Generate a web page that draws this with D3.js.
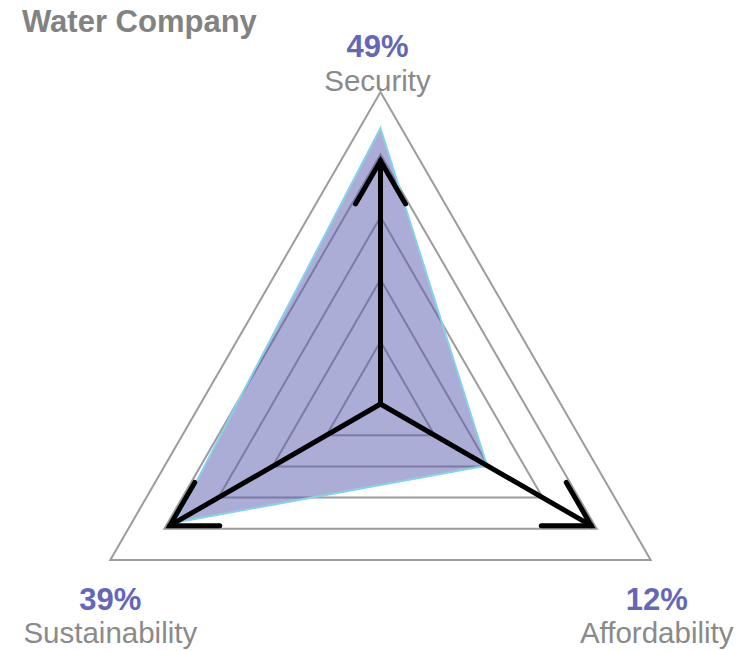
<!DOCTYPE html>
<html>
<head>
<meta charset="utf-8">
<script src="https://cdn.jsdelivr.net/npm/d3@7"></script>
<style>
  body { margin: 0; background: #fff; }
  text { font-family: "Liberation Sans", Arial, Helvetica, sans-serif; }
</style>
</head>
<body>
<div id="chart-holder"></div>
<script>
// ****DATA****
const axes = ["Security", "Affordability", "Sustainability"];
const shares = ["49%", "12%", "39%"];          // labels shown above each axis name
const scores = [4.42, 1.97, 3.8];              // radar polygon values (0-5)
const targets = [3.9, 3.9, 3.9];               // black arrow lengths (0-5)
const levels = [1, 2, 3, 4, 5];                // grid rings

// ****CANVAS****
const width = 742;
const height = 651;
const cx = 380.5;
const cy = 404;
const radius = 312;

const svg = d3.select('#chart-holder')
    .append('svg')
    .attr('width', width)
    .attr('height', height);

svg.append('text')
    .attr('x', 22)
    .attr('y', 32)
    .style('font-weight', 'bold')
    .style('font-size', '31px')
    .style('fill', '#828282')
    .text('Water Company');

// ****SCALES****
const rScale = d3.scaleLinear().domain([0, 5]).range([0, radius]);
const angle = d3.scaleLinear().domain([0, axes.length]).range([0, 2 * Math.PI]);

const g = svg.append('g')
    .attr('transform', `translate(${cx}, ${cy})`);

const radial = d3.lineRadial()
    .angle((d, i) => angle(i))
    .radius(d => rScale(d))
    .curve(d3.curveLinearClosed);

// grid triangles
g.append('g')
    .attr('id', 'grid')
    .selectAll('path')
    .data(levels)
    .enter()
    .append('path')
    .attr('d', l => radial(axes.map(() => l)))
    .style('fill', 'none')
    .style('stroke', '#9c9c9c')
    .style('stroke-width', 2);

// data polygon
g.append('path')
    .datum(scores)
    .attr('d', radial)
    .style('fill', '#5a5cad')
    .style('fill-opacity', 0.5)
    .style('stroke', '#86d2ea')
    .style('stroke-width', 2)
    .style('stroke-linejoin', 'miter');

// arrows
const point = (v, i) => {
    const a = angle(i);
    return [rScale(v) * Math.sin(a), -rScale(v) * Math.cos(a)];
};
const arrowGroup = g.append('g').attr('id', 'arrows');
targets.forEach(function (t, i) {
    const tip = point(t, i);
    const a = angle(i);
    const head = 50;
    const arms = [-Math.PI / 6, Math.PI / 6].map(function (off) {
        const b = a + Math.PI + off;
        return [tip[0] + head * Math.sin(b), tip[1] - head * Math.cos(b)];
    });
    arrowGroup.append('line')
        .attr('x1', 0).attr('y1', 0)
        .attr('x2', tip[0]).attr('y2', tip[1])
        .style('stroke', '#000')
        .style('stroke-width', 5)
        .style('stroke-linecap', 'round');
    arrowGroup.append('path')
        .attr('d', d3.line()([arms[0], tip, arms[1]]))
        .style('fill', 'none')
        .style('stroke', '#000')
        .style('stroke-width', 5)
        .style('stroke-linecap', 'round')
        .style('stroke-linejoin', 'miter');
});

// axis labels
const labelPos = [
    { dx: -3, valueY: -347, nameY: -313 },
    { dx: 6, valueY: 206, nameY: 239 },
    { dx: 0, valueY: 206, nameY: 239 }
];
axes.forEach(function (name, i) {
    const v = point(5, i);
    const x = v[0] + labelPos[i].dx;
    g.append('text')
        .attr('x', x)
        .attr('y', labelPos[i].valueY)
        .attr('text-anchor', 'middle')
        .style('font-weight', 'bold')
        .style('font-size', '31px')
        .style('fill', '#6466b6')
        .text(shares[i]);
    g.append('text')
        .attr('x', x)
        .attr('y', labelPos[i].nameY)
        .attr('text-anchor', 'middle')
        .style('font-size', '29.5px')
        .style('fill', '#8a8a8a')
        .text(name);
});
</script>
</body>
</html>
